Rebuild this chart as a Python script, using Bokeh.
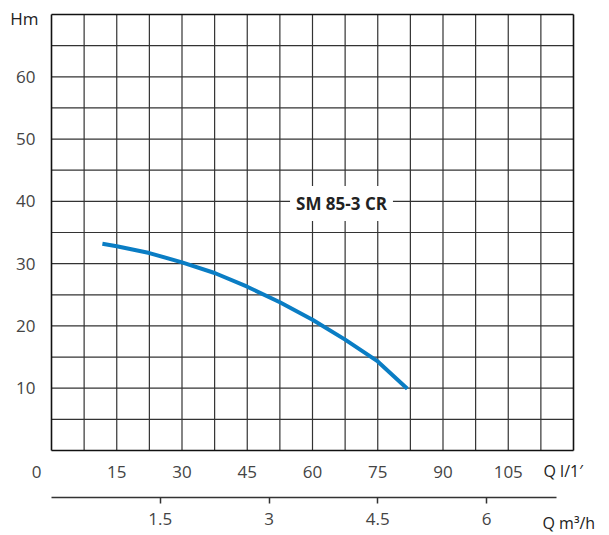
from bokeh.plotting import figure
from bokeh.models import Range1d, LinearAxis, FixedTicker, Label
from bokeh.embed import file_html
from bokeh.resources import INLINE

# ---- data ----
flow_lmin = [11.7, 15, 22.5, 30, 37.5, 45, 52.5, 60, 67.5, 75, 81.8]
head_m = [33.2, 32.8, 31.7, 30.2, 28.5, 26.3, 23.8, 21.0, 17.8, 14.3, 9.9]
x_ticks_lmin = [15, 30, 45, 60, 75, 90, 105]
x_ticks_m3h = [1.5, 3, 4.5, 6]
y_ticks = [10, 20, 30, 40, 50, 60]
x_grid = [7.5 * i for i in range(0, 17)]
y_grid = [5 * i for i in range(0, 15)]
x_max, y_max = 120, 70
m3h_axis_end = 6.96
model_name = "SM 85-3 CR"

# ---- layout (pixel geometry of the chart box inside the canvas) ----
FONT = "Open Sans"
W, H = 609, 535
LEFT, TOP, RIGHT, BOTTOM = 51, 14, 573, 450
sx = (RIGHT - LEFT) / x_max
sy = (BOTTOM - TOP) / y_max
xr = Range1d(-LEFT / sx, (W - LEFT) / sx)
yr = Range1d((BOTTOM - H) / sy, BOTTOM / sy)

def px_y(py):
    return (BOTTOM - py) / sy

def px_x(px):
    return (px - LEFT) / sx

p = figure(width=W, height=H, output_backend="svg", toolbar_location=None,
           x_range=xr, y_range=yr, x_axis_type=None, y_axis_type=None, min_border=0)
p.outline_line_color = None
p.background_fill_color = "white"
p.border_fill_color = "white"
p.xgrid.visible = False
p.ygrid.visible = False

# grid (inner lines) and box
inner_x = [g for g in x_grid if 0 < g < x_max]
inner_y = [g for g in y_grid if 0 < g < y_max]
p.segment(x0=inner_x, y0=[0] * len(inner_x), x1=inner_x, y1=[y_max] * len(inner_x),
          line_color="#333333", line_width=1.2)
p.segment(x0=[0] * len(inner_y), y0=inner_y, x1=[x_max] * len(inner_y), y1=inner_y,
          line_color="#333333", line_width=1.2)
p.segment(x0=[0, x_max, 0, 0], y0=[0, 0, 0, y_max], x1=[0, x_max, x_max, x_max],
          y1=[y_max, y_max, 0, y_max], line_color="#111111", line_width=1.6)

# y axis
yax = LinearAxis(ticker=FixedTicker(ticks=y_ticks, minor_ticks=[]), fixed_location=0)
yax.axis_line_color = None
yax.major_tick_line_color = None
yax.minor_tick_line_color = None
yax.major_label_standoff = 10
yax.major_label_text_font = FONT
yax.major_label_text_font_size = "17px"
yax.major_label_text_color = "#444444"
p.add_layout(yax, "left")

# x axis (l/min)
xax = LinearAxis(ticker=FixedTicker(ticks=x_ticks_lmin, minor_ticks=[]), fixed_location=0)
xax.axis_line_color = None
xax.major_tick_line_color = None
xax.minor_tick_line_color = None
xax.major_label_standoff = 9
xax.major_label_text_font = FONT
xax.major_label_text_font_size = "17px"
xax.major_label_text_color = "#444444"
p.add_layout(xax, "below")

# second x axis (m3/h)
p.extra_x_ranges = {"m3h": Range1d(xr.start * 0.06, xr.end * 0.06)}
xax2 = LinearAxis(x_range_name="m3h", ticker=FixedTicker(ticks=x_ticks_m3h, minor_ticks=[]),
                  fixed_location=px_y(497))
xax2.bounds = (0, m3h_axis_end)
xax2.axis_line_color = "#333333"
xax2.axis_line_width = 1.5
xax2.major_tick_line_color = "#333333"
xax2.major_tick_line_width = 1.5
xax2.major_tick_in = 0
xax2.major_tick_out = 6
xax2.minor_tick_line_color = None
xax2.major_label_standoff = 9
xax2.major_label_text_font = FONT
xax2.major_label_text_font_size = "17px"
xax2.major_label_text_color = "#444444"
p.add_layout(xax2, "below")

# curve
p.line(flow_lmin, head_m, line_color="#0a7dc4", line_width=4)

# model label
p.add_layout(Label(x=px_x(341), y=px_y(203), text=model_name, text_align="center",
                   text_baseline="middle", text_font=FONT, text_font_style="bold",
                   text_font_size="17px", text_color="#222222",
                   background_fill_color="white", border_line_color=None, padding=6))

# corner / unit labels
common = dict(text_font=FONT, text_baseline="middle")
p.add_layout(Label(x=px_x(38), y=px_y(18), text="Hm", text_align="right",
                   text_font_size="17px", text_color="#222222", **common))
p.add_layout(Label(x=px_x(36), y=px_y(471), text="0", text_align="center",
                   text_font_size="17px", text_color="#444444", **common))
p.add_layout(Label(x=px_x(543), y=px_y(470), text="Q l/1\u2032", text_align="left",
                   text_font_size="16px", text_color="#222222", **common))
p.add_layout(Label(x=px_x(542), y=px_y(522), text="Q m\u00b3/h", text_align="left",
                   text_font_size="16px", text_color="#222222", **common))

open("out.html", "w").write(file_html(p, INLINE))
